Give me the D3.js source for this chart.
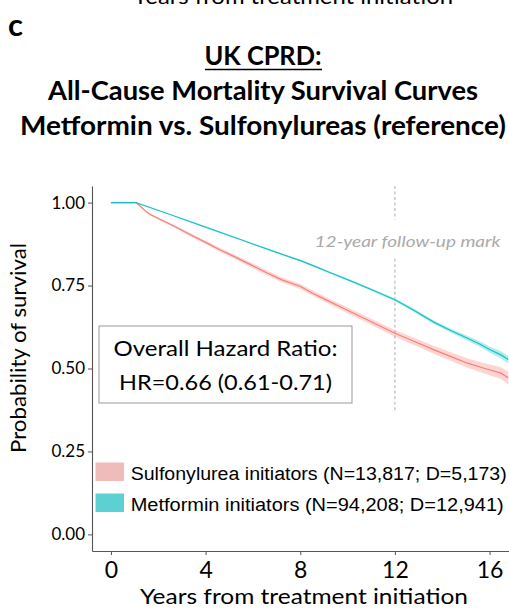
<!DOCTYPE html>
<html>
<head>
<meta charset="utf-8">
<script src="https://cdn.jsdelivr.net/npm/d3@7"></script>
<style>
  body { margin: 0; background: #fff; }
  svg { display: block; font-family: Lato, "Open Sans", sans-serif; }
</style>
</head>
<body>
<div class="canvas"></div>
<script>
// Survival data (years, probability)
var sulfTimes = [0, 1.06, 1.24, 1.45, 1.66, 2.09, 2.7, 3.36, 4.0, 4.6, 5.19, 5.9, 6.6, 7.2, 8.01, 8.44, 9.2, 10.1, 11.0, 12.0, 12.8, 13.66, 14.4, 15.07, 15.8, 16.48, 16.8];
var sulfSurv  = [1.0, 1.0, 0.989, 0.975, 0.964, 0.949, 0.928, 0.903, 0.880, 0.858, 0.838, 0.813, 0.788, 0.768, 0.747, 0.730, 0.703, 0.672, 0.641, 0.606, 0.582, 0.556, 0.535, 0.516, 0.500, 0.486, 0.471];
var sulfCI    = [0, 0, 0.002, 0.003, 0.003, 0.004, 0.004, 0.005, 0.005, 0.006, 0.006, 0.007, 0.007, 0.007, 0.008, 0.008, 0.008, 0.009, 0.009, 0.010, 0.011, 0.012, 0.013, 0.014, 0.016, 0.018, 0.020];

var metTimes = [0, 1.06, 2.5, 4.0, 5.5, 7.0, 8.01, 8.44, 9.3, 10.13, 11.0, 12.0, 12.67, 13.66, 14.4, 15.07, 15.6, 16.0, 16.48, 16.8];
var metSurv  = [1.0, 1.0, 0.964, 0.926, 0.888, 0.850, 0.825, 0.813, 0.788, 0.764, 0.738, 0.707, 0.681, 0.639, 0.613, 0.591, 0.573, 0.557, 0.541, 0.526];
var metCI    = [0, 0, 0.001, 0.002, 0.002, 0.002, 0.003, 0.003, 0.003, 0.003, 0.004, 0.004, 0.005, 0.005, 0.006, 0.007, 0.008, 0.009, 0.011, 0.012];

var xTicks = [0, 4, 8, 12, 16];
var yTicks = [0, 0.25, 0.5, 0.75, 1];

var legendLabels = ['Sulfonylurea initiators (N=13,817; D=5,173)', 'Metformin initiators (N=94,208; D=12,941)'];
var hrLines = ['Overall Hazard Ratio:', 'HR=0.66 (0.61-0.71)'];
var titleLines = ['UK CPRD:', 'All-Cause Mortality Survival Curves', 'Metformin vs. Sulfonylureas (reference)'];

var markYear = 12;
var markSegments = [[1.05, 0.949], [0.831, 0.369]];

// Svg
var svg = d3.select('.canvas').append('svg').attr('width', 509).attr('height', 611);

// Margins for plot panel
var margin = { top: 186, right: 0, left: 92, bottom: 60 };
var graphWidth = 508.5 - margin.left;
var graphHeight = 611 - margin.top - margin.bottom;

var x = d3.scaleLinear().domain([-0.8, 16.8]).range([0, graphWidth]);
var y = d3.scaleLinear().domain([-0.05, 1.05]).range([graphHeight, 0]);

// Leftover axis title of the panel above (cut by the top edge, as in the figure)
svg.append('text').attr('x', 293).attr('y', 4).attr('text-anchor', 'middle')
  .attr('font-size', 22).attr('textLength', 320).attr('lengthAdjust', 'spacingAndGlyphs')
  .text('Years from treatment initiation');

// Panel letter
svg.append('text').attr('x', 8).attr('y', 35.5).attr('font-size', 31).attr('font-weight', 'bold').text('c');

// Titles
var titleY = [65, 100, 135];
var titleW = [117, 430, 486];
titleLines.forEach(function (t, i) {
  svg.append('text').attr('x', 263).attr('y', titleY[i]).attr('text-anchor', 'middle')
    .attr('font-size', 26).attr('font-weight', 'bold')
    .attr('textLength', titleW[i]).attr('lengthAdjust', 'spacingAndGlyphs')
    .text(t);
});
svg.append('line').attr('x1', 205).attr('x2', 322).attr('y1', 69.5).attr('y2', 69.5)
  .attr('stroke', '#000').attr('stroke-width', 1.6);

var graph = svg.append('g').attr('transform', 'translate(' + margin.left + ', ' + margin.top + ')');

graph.append('clipPath').attr('id', 'panel').append('rect')
  .attr('width', graphWidth).attr('height', graphHeight);

var plot = graph.append('g').attr('clip-path', 'url(#panel)');

// Series
var series = [
  { t: sulfTimes, s: sulfSurv, ci: sulfCI, line: '#F8766D', band: '#F8766D' },
  { t: metTimes, s: metSurv, ci: metCI, line: '#00BFC4', band: '#00BFC4' }
];

var area = d3.area()
  .x(function (d) { return x(d.t); })
  .y0(function (d) { return y(d.s - d.ci); })
  .y1(function (d) { return y(d.s + d.ci); });

var line = d3.line()
  .x(function (d) { return x(d.t); })
  .y(function (d) { return y(d.s); });

series.forEach(function (ser) {
  var pts = ser.t.map(function (t, i) { return { t: t, s: ser.s[i], ci: ser.ci[i] }; });
  plot.append('path').attr('d', area(pts)).attr('fill', ser.band).attr('fill-opacity', 0.3);
  plot.append('path').attr('d', line(pts)).attr('fill', 'none')
    .attr('stroke', ser.line).attr('stroke-width', 1.2).attr('stroke-opacity', 0.9);
});

// 12 year mark
markSegments.forEach(function (seg) {
  plot.append('line').attr('x1', x(markYear)).attr('x2', x(markYear))
    .attr('y1', y(seg[0])).attr('y2', y(seg[1]))
    .attr('stroke', '#999').attr('stroke-width', 0.8).attr('stroke-dasharray', '3,2.5');
});
graph.append('text').attr('x', x(markYear) + 12.7).attr('y', 60.7).attr('text-anchor', 'middle')
  .attr('font-size', 16).attr('font-style', 'italic').attr('fill', '#aaa')
  .attr('textLength', 186).attr('lengthAdjust', 'spacingAndGlyphs')
  .text('12-year follow-up mark');

// Hazard ratio box
graph.append('rect').attr('x', 7).attr('y', 140).attr('width', 253).attr('height', 77)
  .attr('fill', '#fff').attr('stroke', '#999').attr('stroke-width', 1);
var hrY = [170, 204];
var hrW = [224, 213];
hrLines.forEach(function (t, i) {
  graph.append('text').attr('x', 133.5).attr('y', hrY[i]).attr('text-anchor', 'middle')
    .attr('font-size', 22).attr('textLength', hrW[i]).attr('lengthAdjust', 'spacingAndGlyphs')
    .text(t);
});

// Legend
var legendFill = ['#EFBBBB', '#5CD0D3'];
var legendW = [376, 373];
legendLabels.forEach(function (t, i) {
  var ly = 276.5 + i * 31;
  graph.append('rect').attr('x', 3.5).attr('y', ly).attr('width', 28.5).attr('height', 18.5)
    .attr('fill', legendFill[i]);
  graph.append('text').attr('x', 38.7).attr('y', ly + 17.5)
    .attr('font-family', '"Liberation Sans", Arial, sans-serif').attr('font-size', 18)
    .attr('textLength', legendW[i]).attr('lengthAdjust', 'spacingAndGlyphs')
    .text(t);
});

// Axes
var xAxis = d3.axisBottom(x).tickValues(xTicks).tickSize(4).tickSizeOuter(0).tickFormat(d3.format('d'));
var yAxis = d3.axisLeft(y).tickValues(yTicks).tickSize(4).tickSizeOuter(0).tickFormat(d3.format('.2f'));

var xAxisGroup = graph.append('g').attr('transform', 'translate(0, ' + graphHeight + ')').call(xAxis);
var yAxisGroup = graph.append('g').call(yAxis);

[xAxisGroup, yAxisGroup].forEach(function (g) {
  g.select('.domain').attr('stroke', '#555').attr('stroke-width', 1.1);
  g.selectAll('.tick line').attr('stroke', '#555');
  g.selectAll('.tick text').attr('fill', '#000').attr('font-family', 'Lato, sans-serif');
});
xAxisGroup.selectAll('.tick text').attr('font-size', 23).attr('dy', null).attr('y', 27);
yAxisGroup.selectAll('.tick text').attr('font-size', 17).attr('x', -7);

// Axis titles
svg.append('text').attr('x', 304).attr('y', 604).attr('text-anchor', 'middle')
  .attr('font-size', 22).attr('textLength', 328).attr('lengthAdjust', 'spacingAndGlyphs')
  .text('Years from treatment initiation');

svg.append('text').attr('transform', 'translate(26, 348) rotate(-90)').attr('text-anchor', 'middle')
  .attr('font-size', 22).attr('textLength', 210).attr('lengthAdjust', 'spacingAndGlyphs')
  .text('Probability of survival');
</script>
</body>
</html>
